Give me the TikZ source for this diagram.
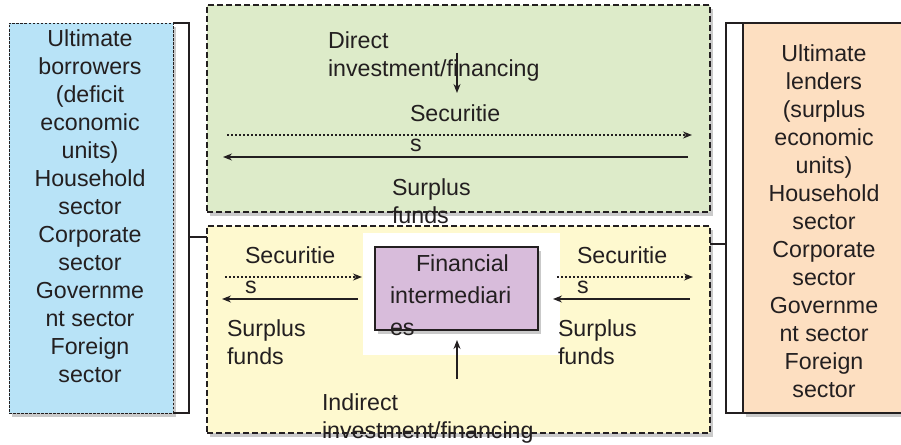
\documentclass[tikz,border=0pt]{standalone}
\usepackage{fontspec}
\setmainfont{Liberation Sans}
\usetikzlibrary{shadows,arrows.meta}
\definecolor{bluefill}{HTML}{B8E3F7}
\definecolor{greenfill}{HTML}{DDEBC9}
\definecolor{yellowfill}{HTML}{FEF9CF}
\definecolor{orangefill}{HTML}{FDDFC1}
\definecolor{purplefill}{HTML}{D8BCDB}
\definecolor{ink}{HTML}{231F20}
\tikzset{
  txt/.style={inner sep=0pt, outer sep=0pt, text=ink, font=\fontsize{23.2}{28}\selectfont},
  txtb/.style={txt, font=\fontsize{23.2}{29.5}\selectfont},
  txtc/.style={txt, font=\fontsize{23.2}{32}\selectfont},
  shd/.style={drop shadow={shadow xshift=3pt, shadow yshift=-4pt, opacity=0.35, fill=black!60}},
  bigbox/.style={draw=ink, line width=1.2pt, dash pattern=on 6pt off 3pt, inner sep=0pt, outer sep=0pt, anchor=north west, shd},
  sidebox/.style={inner sep=0pt, outer sep=0pt, anchor=north west, shd},
  brace/.style={draw=ink, line width=1.3pt},
  solidarrow/.style={draw=ink, line width=1.3pt, -{Stealth[length=9pt,width=7pt]}},
  dotarrow/.style={draw=ink, line width=1.3pt, dash pattern=on 2pt off 2pt, -{Stealth[length=9pt,width=7pt]}}
}
\begin{document}
\begin{tikzpicture}[x=1pt,y=-1pt]
\useasboundingbox (0,0) rectangle (901,444);
% boxes
\node[sidebox, fill=bluefill, draw=ink, line width=0.7pt, dash pattern=on 2.5pt off 1.5pt, minimum width=164pt, minimum height=390pt] (lb) at (9,23) {};
\node[sidebox, fill=orangefill, draw=ink, line width=1.3pt, minimum width=170pt, minimum height=390pt] (rb) at (743,23) {};
\node[bigbox, fill=greenfill, minimum width=503pt, minimum height=207pt] (gb) at (207,5) {};
\node[bigbox, fill=yellowfill, minimum width=503pt, minimum height=207pt] (yb) at (207,226) {};
% white backing and intermediary box
\node[inner sep=0pt, outer sep=0pt, anchor=north west, fill=white, minimum width=197pt, minimum height=122pt] (wb) at (363,233) {};
\node[sidebox, fill=purplefill, draw=ink, line width=1.3pt, minimum width=163pt, minimum height=83pt] (fi) at (375,247) {};
% brackets
\coordinate (lbr) at (189,237);
\coordinate (rbr) at (726,244);
\draw[brace] (lb.north east) -- (lb.north east -| lbr) -- (lb.south east -| lbr) -- (lb.south east);
\draw[brace] (lbr) -- (yb.west |- lbr);
\draw[brace] (rb.north west) -- (rb.north west -| rbr) -- (rb.south west -| rbr) -- (rb.south west);
\draw[brace] (rbr) -- (yb.east |- rbr);
% side texts
\node[txt, align=center, anchor=north] (lt) at (90,30) {Ultimate\\borrowers\\(deficit\\economic\\units)\\Household\\sector\\Corporate\\sector\\Governme\\nt sector\\Foreign\\sector};
\node[txt, align=center, anchor=north] (rt) at (824,45) {Ultimate\\lenders\\(surplus\\economic\\units)\\Household\\sector\\Corporate\\sector\\Governme\\nt sector\\Foreign\\sector};
% green box content
\node[txt, align=left, anchor=north west] (dir) at (328,32) {Direct\\investment/financing};
\coordinate (da1) at (457,53);
\coordinate (da2) at (457,93);
\draw[solidarrow] (da1) -- (da2);
\node[txtb, align=left, anchor=north west] (gsec) at (410,105) {Securitie\\s};
\coordinate (gd1) at (227,135);
\coordinate (gd2) at (692,135);
\draw[dotarrow] (gd1) -- (gd2);
\coordinate (gs1) at (688,157);
\coordinate (gs2) at (223,157);
\draw[solidarrow] (gs1) -- (gs2);
\node[txt, align=left, anchor=north west] (gsur) at (392,179) {Surplus\\funds};
% yellow box content
\node[txtb, align=left, anchor=north west] (lsec) at (245,247) {Securitie\\s};
\coordinate (ld1) at (225,277);
\coordinate (ld2) at (362,277);
\draw[dotarrow] (ld1) -- (ld2);
\coordinate (ls1) at (358,299);
\coordinate (ls2) at (222,299);
\draw[solidarrow] (ls1) -- (ls2);
\node[txt, align=left, anchor=north west] (lsur) at (227,320) {Surplus\\funds};
\node[txtb, align=left, anchor=north west] (rsec) at (577,247) {Securitie\\s};
\coordinate (rd1) at (557,277);
\coordinate (rd2) at (693,277);
\draw[dotarrow] (rd1) -- (rd2);
\coordinate (rs1) at (690,299);
\coordinate (rs2) at (553,299);
\draw[solidarrow] (rs1) -- (rs2);
\node[txt, align=left, anchor=north west] (rsur) at (558,320) {Surplus\\funds};
\node[txtc, align=left, anchor=north west] (fit) at (390,255) {\hspace*{26pt}Financial\\intermediari\\es};
\coordinate (ua1) at (457,379);
\coordinate (ua2) at (457,340);
\draw[solidarrow] (ua1) -- (ua2);
\node[txt, align=left, anchor=north west] (ind) at (322,394) {Indirect\\investment/financing};
\end{tikzpicture}
\end{document}
